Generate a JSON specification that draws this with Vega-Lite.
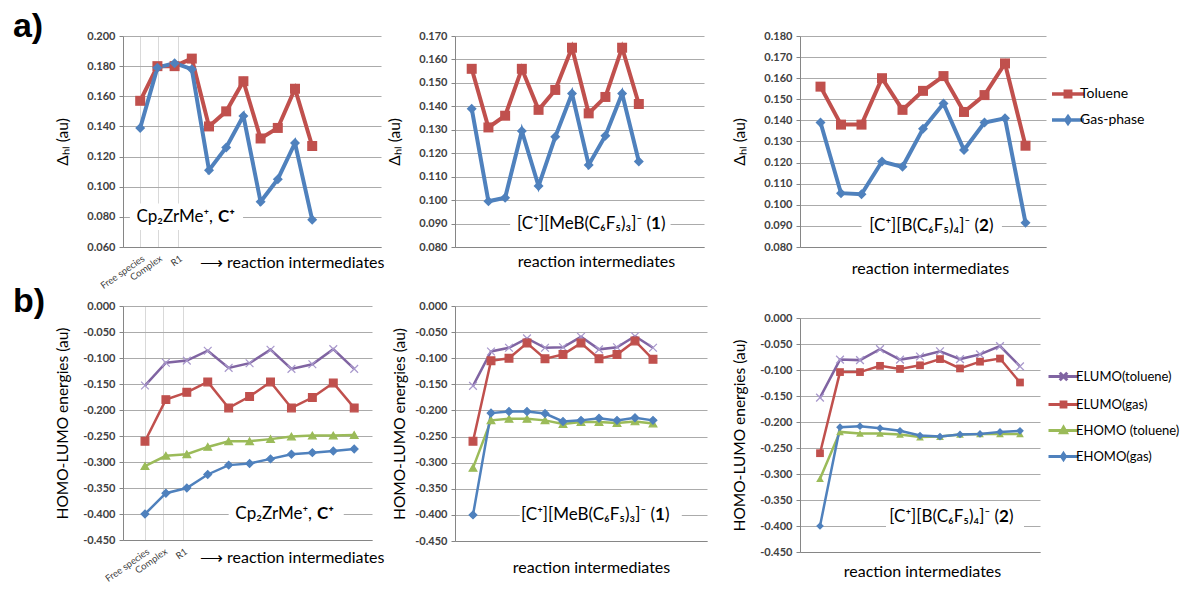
{
"$schema": "https://vega.github.io/schema/vega-lite/v6.json",
"padding": {"left": 12, "top": 10, "right": 0, "bottom": 0},
"background": "white",
"columns": 5,
"align": "each",
"bounds": "flush",
"spacing": {"row": 59, "column": 0},
"resolve": {"scale": {"color": "independent", "shape": "independent", "stroke": "independent"}},
"config": {
  "view": {"stroke": null},
  "font": "Lato",
  "axis": {"labelFont": "Lato", "titleFont": "Lato", "labelFontSize": 11, "labelFontWeight": "bold", "labelColor": "#404040", "titleFontSize": 15, "titleFontWeight": "normal", "titleColor": "#000000", "domainColor": "#868686", "tickColor": "#868686", "gridColor": "#ababab", "tickSize": 4, "labelPadding": 4},
  "axisX": {"titleFontSize": 16},
  "axisY": {"titleFontSize": 15.5},
  "legend": {"labelFont": "Lato", "labelFontSize": 13, "labelColor": "#000000", "padding": 0, "labelLimit": 300},
  "text": {"font": "Lato"}
},
"datasets": {
 "a1": [
  {"series":"Toluene","i":1,"v":0.157},{"series":"Toluene","i":2,"v":0.180},{"series":"Toluene","i":3,"v":0.180},{"series":"Toluene","i":4,"v":0.185},{"series":"Toluene","i":5,"v":0.140},{"series":"Toluene","i":6,"v":0.150},{"series":"Toluene","i":7,"v":0.170},{"series":"Toluene","i":8,"v":0.132},{"series":"Toluene","i":9,"v":0.139},{"series":"Toluene","i":10,"v":0.165},{"series":"Toluene","i":11,"v":0.127},
  {"series":"Gas-phase","i":1,"v":0.139},{"series":"Gas-phase","i":2,"v":0.179},{"series":"Gas-phase","i":3,"v":0.182},{"series":"Gas-phase","i":4,"v":0.178},{"series":"Gas-phase","i":5,"v":0.111},{"series":"Gas-phase","i":6,"v":0.126},{"series":"Gas-phase","i":7,"v":0.147},{"series":"Gas-phase","i":8,"v":0.090},{"series":"Gas-phase","i":9,"v":0.105},{"series":"Gas-phase","i":10,"v":0.129},{"series":"Gas-phase","i":11,"v":0.078}
 ],
 "a2": [
  {"series":"Toluene","i":1,"v":0.156},{"series":"Toluene","i":2,"v":0.131},{"series":"Toluene","i":3,"v":0.136},{"series":"Toluene","i":4,"v":0.156},{"series":"Toluene","i":5,"v":0.1385},{"series":"Toluene","i":6,"v":0.147},{"series":"Toluene","i":7,"v":0.165},{"series":"Toluene","i":8,"v":0.137},{"series":"Toluene","i":9,"v":0.144},{"series":"Toluene","i":10,"v":0.165},{"series":"Toluene","i":11,"v":0.141},
  {"series":"Gas-phase","i":1,"v":0.139},{"series":"Gas-phase","i":2,"v":0.0995},{"series":"Gas-phase","i":3,"v":0.101},{"series":"Gas-phase","i":4,"v":0.1295},{"series":"Gas-phase","i":5,"v":0.106},{"series":"Gas-phase","i":6,"v":0.127},{"series":"Gas-phase","i":7,"v":0.1455},{"series":"Gas-phase","i":8,"v":0.115},{"series":"Gas-phase","i":9,"v":0.1275},{"series":"Gas-phase","i":10,"v":0.1455},{"series":"Gas-phase","i":11,"v":0.1165}
 ],
 "a3": [
  {"series":"Toluene","i":1,"v":0.156},{"series":"Toluene","i":2,"v":0.138},{"series":"Toluene","i":3,"v":0.138},{"series":"Toluene","i":4,"v":0.160},{"series":"Toluene","i":5,"v":0.145},{"series":"Toluene","i":6,"v":0.154},{"series":"Toluene","i":7,"v":0.161},{"series":"Toluene","i":8,"v":0.144},{"series":"Toluene","i":9,"v":0.152},{"series":"Toluene","i":10,"v":0.167},{"series":"Toluene","i":11,"v":0.128},
  {"series":"Gas-phase","i":1,"v":0.139},{"series":"Gas-phase","i":2,"v":0.1055},{"series":"Gas-phase","i":3,"v":0.105},{"series":"Gas-phase","i":4,"v":0.1205},{"series":"Gas-phase","i":5,"v":0.118},{"series":"Gas-phase","i":6,"v":0.136},{"series":"Gas-phase","i":7,"v":0.148},{"series":"Gas-phase","i":8,"v":0.126},{"series":"Gas-phase","i":9,"v":0.139},{"series":"Gas-phase","i":10,"v":0.141},{"series":"Gas-phase","i":11,"v":0.0915}
 ],
 "b1": [
  {"series":"ELUMO(toluene)","i":1,"v":-0.153},{"series":"ELUMO(toluene)","i":2,"v":-0.109},{"series":"ELUMO(toluene)","i":3,"v":-0.105},{"series":"ELUMO(toluene)","i":4,"v":-0.086},{"series":"ELUMO(toluene)","i":5,"v":-0.119},{"series":"ELUMO(toluene)","i":6,"v":-0.110},{"series":"ELUMO(toluene)","i":7,"v":-0.084},{"series":"ELUMO(toluene)","i":8,"v":-0.121},{"series":"ELUMO(toluene)","i":9,"v":-0.112},{"series":"ELUMO(toluene)","i":10,"v":-0.083},{"series":"ELUMO(toluene)","i":11,"v":-0.121},
  {"series":"ELUMO(gas)","i":1,"v":-0.260},{"series":"ELUMO(gas)","i":2,"v":-0.180},{"series":"ELUMO(gas)","i":3,"v":-0.166},{"series":"ELUMO(gas)","i":4,"v":-0.146},{"series":"ELUMO(gas)","i":5,"v":-0.196},{"series":"ELUMO(gas)","i":6,"v":-0.174},{"series":"ELUMO(gas)","i":7,"v":-0.146},{"series":"ELUMO(gas)","i":8,"v":-0.196},{"series":"ELUMO(gas)","i":9,"v":-0.176},{"series":"ELUMO(gas)","i":10,"v":-0.148},{"series":"ELUMO(gas)","i":11,"v":-0.196},
  {"series":"EHOMO (toluene)","i":1,"v":-0.308},{"series":"EHOMO (toluene)","i":2,"v":-0.288},{"series":"EHOMO (toluene)","i":3,"v":-0.285},{"series":"EHOMO (toluene)","i":4,"v":-0.271},{"series":"EHOMO (toluene)","i":5,"v":-0.260},{"series":"EHOMO (toluene)","i":6,"v":-0.260},{"series":"EHOMO (toluene)","i":7,"v":-0.256},{"series":"EHOMO (toluene)","i":8,"v":-0.251},{"series":"EHOMO (toluene)","i":9,"v":-0.249},{"series":"EHOMO (toluene)","i":10,"v":-0.249},{"series":"EHOMO (toluene)","i":11,"v":-0.248},
  {"series":"EHOMO(gas)","i":1,"v":-0.400},{"series":"EHOMO(gas)","i":2,"v":-0.360},{"series":"EHOMO(gas)","i":3,"v":-0.350},{"series":"EHOMO(gas)","i":4,"v":-0.324},{"series":"EHOMO(gas)","i":5,"v":-0.306},{"series":"EHOMO(gas)","i":6,"v":-0.303},{"series":"EHOMO(gas)","i":7,"v":-0.294},{"series":"EHOMO(gas)","i":8,"v":-0.285},{"series":"EHOMO(gas)","i":9,"v":-0.282},{"series":"EHOMO(gas)","i":10,"v":-0.279},{"series":"EHOMO(gas)","i":11,"v":-0.275}
 ],
 "b2": [
  {"series":"ELUMO(toluene)","i":1,"v":-0.153},{"series":"ELUMO(toluene)","i":2,"v":-0.087},{"series":"ELUMO(toluene)","i":3,"v":-0.080},{"series":"ELUMO(toluene)","i":4,"v":-0.062},{"series":"ELUMO(toluene)","i":5,"v":-0.080},{"series":"ELUMO(toluene)","i":6,"v":-0.079},{"series":"ELUMO(toluene)","i":7,"v":-0.059},{"series":"ELUMO(toluene)","i":8,"v":-0.083},{"series":"ELUMO(toluene)","i":9,"v":-0.079},{"series":"ELUMO(toluene)","i":10,"v":-0.058},{"series":"ELUMO(toluene)","i":11,"v":-0.080},
  {"series":"ELUMO(gas)","i":1,"v":-0.259},{"series":"ELUMO(gas)","i":2,"v":-0.105},{"series":"ELUMO(gas)","i":3,"v":-0.100},{"series":"ELUMO(gas)","i":4,"v":-0.071},{"series":"ELUMO(gas)","i":5,"v":-0.101},{"series":"ELUMO(gas)","i":6,"v":-0.093},{"series":"ELUMO(gas)","i":7,"v":-0.071},{"series":"ELUMO(gas)","i":8,"v":-0.101},{"series":"ELUMO(gas)","i":9,"v":-0.093},{"series":"ELUMO(gas)","i":10,"v":-0.067},{"series":"ELUMO(gas)","i":11,"v":-0.102},
  {"series":"EHOMO (toluene)","i":1,"v":-0.310},{"series":"EHOMO (toluene)","i":2,"v":-0.219},{"series":"EHOMO (toluene)","i":3,"v":-0.216},{"series":"EHOMO (toluene)","i":4,"v":-0.216},{"series":"EHOMO (toluene)","i":5,"v":-0.219},{"series":"EHOMO (toluene)","i":6,"v":-0.226},{"series":"EHOMO (toluene)","i":7,"v":-0.222},{"series":"EHOMO (toluene)","i":8,"v":-0.222},{"series":"EHOMO (toluene)","i":9,"v":-0.224},{"series":"EHOMO (toluene)","i":10,"v":-0.221},{"series":"EHOMO (toluene)","i":11,"v":-0.225},
  {"series":"EHOMO(gas)","i":1,"v":-0.400},{"series":"EHOMO(gas)","i":2,"v":-0.205},{"series":"EHOMO(gas)","i":3,"v":-0.202},{"series":"EHOMO(gas)","i":4,"v":-0.202},{"series":"EHOMO(gas)","i":5,"v":-0.206},{"series":"EHOMO(gas)","i":6,"v":-0.221},{"series":"EHOMO(gas)","i":7,"v":-0.219},{"series":"EHOMO(gas)","i":8,"v":-0.215},{"series":"EHOMO(gas)","i":9,"v":-0.219},{"series":"EHOMO(gas)","i":10,"v":-0.214},{"series":"EHOMO(gas)","i":11,"v":-0.219}
 ],
 "b3": [
  {"series":"ELUMO(toluene)","i":1,"v":-0.153},{"series":"ELUMO(toluene)","i":2,"v":-0.080},{"series":"ELUMO(toluene)","i":3,"v":-0.081},{"series":"ELUMO(toluene)","i":4,"v":-0.060},{"series":"ELUMO(toluene)","i":5,"v":-0.080},{"series":"ELUMO(toluene)","i":6,"v":-0.074},{"series":"ELUMO(toluene)","i":7,"v":-0.064},{"series":"ELUMO(toluene)","i":8,"v":-0.079},{"series":"ELUMO(toluene)","i":9,"v":-0.070},{"series":"ELUMO(toluene)","i":10,"v":-0.054},{"series":"ELUMO(toluene)","i":11,"v":-0.093},
  {"series":"ELUMO(gas)","i":1,"v":-0.260},{"series":"ELUMO(gas)","i":2,"v":-0.104},{"series":"ELUMO(gas)","i":3,"v":-0.104},{"series":"ELUMO(gas)","i":4,"v":-0.092},{"series":"ELUMO(gas)","i":5,"v":-0.098},{"series":"ELUMO(gas)","i":6,"v":-0.091},{"series":"ELUMO(gas)","i":7,"v":-0.079},{"series":"ELUMO(gas)","i":8,"v":-0.097},{"series":"ELUMO(gas)","i":9,"v":-0.084},{"series":"ELUMO(gas)","i":10,"v":-0.078},{"series":"ELUMO(gas)","i":11,"v":-0.124},
  {"series":"EHOMO (toluene)","i":1,"v":-0.309},{"series":"EHOMO (toluene)","i":2,"v":-0.219},{"series":"EHOMO (toluene)","i":3,"v":-0.222},{"series":"EHOMO (toluene)","i":4,"v":-0.222},{"series":"EHOMO (toluene)","i":5,"v":-0.224},{"series":"EHOMO (toluene)","i":6,"v":-0.229},{"series":"EHOMO (toluene)","i":7,"v":-0.228},{"series":"EHOMO (toluene)","i":8,"v":-0.224},{"series":"EHOMO (toluene)","i":9,"v":-0.223},{"series":"EHOMO (toluene)","i":10,"v":-0.223},{"series":"EHOMO (toluene)","i":11,"v":-0.223},
  {"series":"EHOMO(gas)","i":1,"v":-0.400},{"series":"EHOMO(gas)","i":2,"v":-0.210},{"series":"EHOMO(gas)","i":3,"v":-0.208},{"series":"EHOMO(gas)","i":4,"v":-0.212},{"series":"EHOMO(gas)","i":5,"v":-0.217},{"series":"EHOMO(gas)","i":6,"v":-0.226},{"series":"EHOMO(gas)","i":7,"v":-0.228},{"series":"EHOMO(gas)","i":8,"v":-0.224},{"series":"EHOMO(gas)","i":9,"v":-0.223},{"series":"EHOMO(gas)","i":10,"v":-0.219},{"series":"EHOMO(gas)","i":11,"v":-0.217}
 ]
},
"concat": [
 {
  "width": 258, "height": 211,
  "layer": [
   {"data": {"values": [{}]}, "mark": {"type": "rect", "fill": "white"},
    "encoding": {
     "x": {"datum": 0.4, "type": "quantitative", "scale": {"domain": [0, 15], "nice": false, "zero": false}, "axis": {"values": [1, 2.03, 3.2], "labelExpr": "datum.value < 1.5 ? 'Free species' : datum.value < 2.6 ? 'Complex' : 'R1'", "labelAngle": -35, "labelFontSize": 9.5, "labelFontWeight": "normal", "labelColor": "#404040", "labelPadding": 6, "labelOverlap": false, "ticks": false, "grid": true, "gridColor": "#d9d9d9", "title": "⟶ reaction intermediates", "titleAnchor": "end", "titleAlign": "right", "titleX": 261, "titleY": 7}},
     "x2": {"datum": 6.98},
     "y": {"datum": 0.0712, "type": "quantitative", "scale": {"domain": [0.06, 0.2], "nice": false, "zero": false}, "axis": {"values": [0.06, 0.08, 0.1, 0.12, 0.14, 0.16, 0.18, 0.2], "format": ".3f", "title": "Δₕₗ (au)", "titlePadding": 16, "grid": true}},
     "y2": {"datum": 0.0888}}},
   {"data": {"name": "a1"}, "mark": {"type": "line", "strokeWidth": 4},
    "encoding": {
     "x": {"field": "i", "type": "quantitative", "scale": {"domain": [0, 15], "nice": false, "zero": false}, "axis": {"values": [1, 2.03, 3.2], "labelExpr": "datum.value < 1.5 ? 'Free species' : datum.value < 2.6 ? 'Complex' : 'R1'", "labelAngle": -35, "labelFontSize": 9.5, "labelFontWeight": "normal", "labelColor": "#404040", "labelPadding": 6, "labelOverlap": false, "ticks": false, "grid": true, "gridColor": "#d9d9d9", "title": "⟶ reaction intermediates", "titleAnchor": "end", "titleAlign": "right", "titleX": 261, "titleY": 7}},
     "y": {"field": "v", "type": "quantitative", "scale": {"domain": [0.06, 0.2], "nice": false, "zero": false}, "axis": {"values": [0.06, 0.08, 0.1, 0.12, 0.14, 0.16, 0.18, 0.2], "format": ".3f", "title": "Δₕₗ (au)", "titlePadding": 16, "grid": true}},
     "color": {"field": "series", "type": "nominal", "scale": {"domain": ["Toluene", "Gas-phase"], "range": ["#C0504D", "#4F81BD"]}, "legend": null}}},
   {"data": {"name": "a1"}, "mark": {"type": "point", "filled": true, "size": 100, "opacity": 1},
    "encoding": {
     "x": {"field": "i", "type": "quantitative", "scale": {"domain": [0, 15], "nice": false, "zero": false}, "axis": {"values": [1, 2.03, 3.2], "labelExpr": "datum.value < 1.5 ? 'Free species' : datum.value < 2.6 ? 'Complex' : 'R1'", "labelAngle": -35, "labelFontSize": 9.5, "labelFontWeight": "normal", "labelColor": "#404040", "labelPadding": 6, "labelOverlap": false, "ticks": false, "grid": true, "gridColor": "#d9d9d9", "title": "⟶ reaction intermediates", "titleAnchor": "end", "titleAlign": "right", "titleX": 261, "titleY": 7}},
     "y": {"field": "v", "type": "quantitative", "scale": {"domain": [0.06, 0.2], "nice": false, "zero": false}, "axis": {"values": [0.06, 0.08, 0.1, 0.12, 0.14, 0.16, 0.18, 0.2], "format": ".3f", "title": "Δₕₗ (au)", "titlePadding": 16, "grid": true}},
     "color": {"field": "series", "type": "nominal", "scale": {"domain": ["Toluene", "Gas-phase"], "range": ["#C0504D", "#4F81BD"]}, "legend": null},
     "shape": {"field": "series", "type": "nominal", "scale": {"domain": ["Toluene", "Gas-phase"], "range": ["square", "diamond"]}, "legend": null}}},
   {"data": {"values": [{}]}, "mark": {"type": "text", "align": "right", "baseline": "middle", "fontSize": 17, "color": "#000000"},
    "encoding": {
     "x": {"datum": 5.23, "type": "quantitative", "scale": {"domain": [0, 15], "nice": false, "zero": false}, "axis": {"values": [1, 2.03, 3.2], "labelExpr": "datum.value < 1.5 ? 'Free species' : datum.value < 2.6 ? 'Complex' : 'R1'", "labelAngle": -35, "labelFontSize": 9.5, "labelFontWeight": "normal", "labelColor": "#404040", "labelPadding": 6, "labelOverlap": false, "ticks": false, "grid": true, "gridColor": "#d9d9d9", "title": "⟶ reaction intermediates", "titleAnchor": "end", "titleAlign": "right", "titleX": 261, "titleY": 7}},
     "y": {"datum": 0.08, "type": "quantitative", "scale": {"domain": [0.06, 0.2], "nice": false, "zero": false}, "axis": {"values": [0.06, 0.08, 0.1, 0.12, 0.14, 0.16, 0.18, 0.2], "format": ".3f", "title": "Δₕₗ (au)", "titlePadding": 16, "grid": true}},
     "text": {"value": "Cp₂ZrMe⁺,"}}},
   {"data": {"values": [{}]}, "mark": {"type": "text", "align": "left", "baseline": "middle", "fontSize": 17, "fontWeight": "bold", "dx": 5, "color": "#000000"},
    "encoding": {
     "x": {"datum": 5.23, "type": "quantitative", "scale": {"domain": [0, 15], "nice": false, "zero": false}, "axis": {"values": [1, 2.03, 3.2], "labelExpr": "datum.value < 1.5 ? 'Free species' : datum.value < 2.6 ? 'Complex' : 'R1'", "labelAngle": -35, "labelFontSize": 9.5, "labelFontWeight": "normal", "labelColor": "#404040", "labelPadding": 6, "labelOverlap": false, "ticks": false, "grid": true, "gridColor": "#d9d9d9", "title": "⟶ reaction intermediates", "titleAnchor": "end", "titleAlign": "right", "titleX": 261, "titleY": 7}},
     "y": {"datum": 0.08, "type": "quantitative", "scale": {"domain": [0.06, 0.2], "nice": false, "zero": false}, "axis": {"values": [0.06, 0.08, 0.1, 0.12, 0.14, 0.16, 0.18, 0.2], "format": ".3f", "title": "Δₕₗ (au)", "titlePadding": 16, "grid": true}},
     "text": {"value": "C⁺"}}},
   {"data": {"values": [{}]}, "mark": {"type": "text", "align": "left", "baseline": "top", "fontSize": 34, "fontWeight": "bold", "font": "Liberation Sans", "color": "#000000"},
    "encoding": {
     "x": {"datum": -6.4, "type": "quantitative", "scale": {"domain": [0, 15], "nice": false, "zero": false}, "axis": {"values": [1, 2.03, 3.2], "labelExpr": "datum.value < 1.5 ? 'Free species' : datum.value < 2.6 ? 'Complex' : 'R1'", "labelAngle": -35, "labelFontSize": 9.5, "labelFontWeight": "normal", "labelColor": "#404040", "labelPadding": 6, "labelOverlap": false, "ticks": false, "grid": true, "gridColor": "#d9d9d9", "title": "⟶ reaction intermediates", "titleAnchor": "end", "titleAlign": "right", "titleX": 261, "titleY": 7}},
     "y": {"datum": 0.21725, "type": "quantitative", "scale": {"domain": [0.06, 0.2], "nice": false, "zero": false}, "axis": {"values": [0.06, 0.08, 0.1, 0.12, 0.14, 0.16, 0.18, 0.2], "format": ".3f", "title": "Δₕₗ (au)", "titlePadding": 16, "grid": true}},
     "text": {"value": "a)"}}}
  ]
 },
 {"width": 74, "height": 1, "data": {"values": [{}]}, "mark": {"type": "text"}, "encoding": {"text": {"value": ""}}},
 {
  "width": 249, "height": 211,
  "layer": [
   {"data": {"values": [{}]}, "mark": {"type": "rect", "fill": "white"},
    "encoding": {
     "x": {"datum": 3.3, "type": "quantitative", "scale": {"domain": [0, 14.9], "nice": false, "zero": false}, "axis": {"values": [], "labels": false, "ticks": false, "grid": false, "title": "reaction intermediates", "titlePadding": 6, "titleX": 141}},
     "x2": {"datum": 12.9},
     "y": {"datum": 0.0857, "type": "quantitative", "scale": {"domain": [0.08, 0.17], "nice": false, "zero": false}, "axis": {"values": [0.08, 0.09, 0.1, 0.11, 0.12, 0.13, 0.14, 0.15, 0.16, 0.17], "format": ".3f", "title": "Δₕₗ (au)", "titlePadding": 16, "grid": true}},
     "y2": {"datum": 0.0943}}},
   {"data": {"name": "a2"}, "mark": {"type": "line", "strokeWidth": 4},
    "encoding": {
     "x": {"field": "i", "type": "quantitative", "scale": {"domain": [0, 14.9], "nice": false, "zero": false}, "axis": {"values": [], "labels": false, "ticks": false, "grid": false, "title": "reaction intermediates", "titlePadding": 6, "titleX": 141}},
     "y": {"field": "v", "type": "quantitative", "scale": {"domain": [0.08, 0.17], "nice": false, "zero": false}, "axis": {"values": [0.08, 0.09, 0.1, 0.11, 0.12, 0.13, 0.14, 0.15, 0.16, 0.17], "format": ".3f", "title": "Δₕₗ (au)", "titlePadding": 16, "grid": true}},
     "color": {"field": "series", "type": "nominal", "scale": {"domain": ["Toluene", "Gas-phase"], "range": ["#C0504D", "#4F81BD"]}, "legend": null}}},
   {"data": {"name": "a2"}, "mark": {"type": "point", "filled": true, "size": 100, "opacity": 1},
    "encoding": {
     "x": {"field": "i", "type": "quantitative", "scale": {"domain": [0, 14.9], "nice": false, "zero": false}, "axis": {"values": [], "labels": false, "ticks": false, "grid": false, "title": "reaction intermediates", "titlePadding": 6, "titleX": 141}},
     "y": {"field": "v", "type": "quantitative", "scale": {"domain": [0.08, 0.17], "nice": false, "zero": false}, "axis": {"values": [0.08, 0.09, 0.1, 0.11, 0.12, 0.13, 0.14, 0.15, 0.16, 0.17], "format": ".3f", "title": "Δₕₗ (au)", "titlePadding": 16, "grid": true}},
     "color": {"field": "series", "type": "nominal", "scale": {"domain": ["Toluene", "Gas-phase"], "range": ["#C0504D", "#4F81BD"]}, "legend": null},
     "shape": {"field": "series", "type": "nominal", "scale": {"domain": ["Toluene", "Gas-phase"], "range": ["square", "diamond"]}, "legend": null}}},
   {"data": {"values": [{}]}, "mark": {"type": "text", "align": "right", "baseline": "middle", "fontSize": 17, "color": "#000000"},
    "encoding": {
     "x": {"datum": 11.73, "type": "quantitative", "scale": {"domain": [0, 14.9], "nice": false, "zero": false}, "axis": {"values": [], "labels": false, "ticks": false, "grid": false, "title": "reaction intermediates", "titlePadding": 6, "titleX": 141}},
     "y": {"datum": 0.09, "type": "quantitative", "scale": {"domain": [0.08, 0.17], "nice": false, "zero": false}, "axis": {"values": [0.08, 0.09, 0.1, 0.11, 0.12, 0.13, 0.14, 0.15, 0.16, 0.17], "format": ".3f", "title": "Δₕₗ (au)", "titlePadding": 16, "grid": true}},
     "text": {"value": "[C⁺][MeB(C₆F₅)₃]⁻ ("}}},
   {"data": {"values": [{}]}, "mark": {"type": "text", "align": "left", "baseline": "middle", "fontSize": 17, "fontWeight": "bold", "color": "#000000"},
    "encoding": {
     "x": {"datum": 11.73, "type": "quantitative", "scale": {"domain": [0, 14.9], "nice": false, "zero": false}, "axis": {"values": [], "labels": false, "ticks": false, "grid": false, "title": "reaction intermediates", "titlePadding": 6, "titleX": 141}},
     "y": {"datum": 0.09, "type": "quantitative", "scale": {"domain": [0.08, 0.17], "nice": false, "zero": false}, "axis": {"values": [0.08, 0.09, 0.1, 0.11, 0.12, 0.13, 0.14, 0.15, 0.16, 0.17], "format": ".3f", "title": "Δₕₗ (au)", "titlePadding": 16, "grid": true}},
     "text": {"value": "1"}}},
   {"data": {"values": [{}]}, "mark": {"type": "text", "align": "left", "baseline": "middle", "fontSize": 17, "dx": 10, "color": "#000000"},
    "encoding": {
     "x": {"datum": 11.73, "type": "quantitative", "scale": {"domain": [0, 14.9], "nice": false, "zero": false}, "axis": {"values": [], "labels": false, "ticks": false, "grid": false, "title": "reaction intermediates", "titlePadding": 6, "titleX": 141}},
     "y": {"datum": 0.09, "type": "quantitative", "scale": {"domain": [0.08, 0.17], "nice": false, "zero": false}, "axis": {"values": [0.08, 0.09, 0.1, 0.11, 0.12, 0.13, 0.14, 0.15, 0.16, 0.17], "format": ".3f", "title": "Δₕₗ (au)", "titlePadding": 16, "grid": true}},
     "text": {"value": ")"}}}
  ]
 },
 {"width": 93, "height": 1, "data": {"values": [{}]}, "mark": {"type": "text"}, "encoding": {"text": {"value": ""}}},
 {
  "width": 246, "height": 211,
  "layer": [
   {"data": {"name": "a3"}, "transform": [{"filter": "false"}], "mark": {"type": "point", "filled": false, "strokeWidth": 3.5, "opacity": 1},
    "encoding": {
     "x": {"field": "i", "type": "quantitative", "scale": {"domain": [0, 12], "nice": false, "zero": false}, "axis": {"values": [], "labels": false, "ticks": false, "grid": false, "title": "reaction intermediates", "titlePadding": 13, "titleX": 130}},
     "y": {"field": "v", "type": "quantitative", "scale": {"domain": [0.08, 0.18], "nice": false, "zero": false}, "axis": {"values": [0.08, 0.09, 0.1, 0.11, 0.12, 0.13, 0.14, 0.15, 0.16, 0.17, 0.18], "format": ".3f", "title": "Δₕₗ (au)", "titlePadding": 16, "grid": true}},
     "color": {"field": "series", "type": "nominal", "scale": {"domain": ["Toluene", "Gas-phase"], "range": ["#C0504D", "#4F81BD"]},
       "legend": {"title": null, "orient": "none", "legendX": 256, "legendY": 46, "symbolSize": 400, "symbolStrokeWidth": 3.5, "labelOffset": 0, "labelFontSize": 14, "rowPadding": 4, "padding": 0}},
     "shape": {"field": "series", "type": "nominal", "scale": {"domain": ["Toluene", "Gas-phase"], "range": ["M-1.6,0H1.6M-0.27,-0.27H0.27V0.27H-0.27Z", "M-1.6,0H1.6M0,-0.32L0.22,0L0,0.32L-0.22,0Z"]},
       "legend": {"title": null, "orient": "none", "legendX": 256, "legendY": 46, "symbolSize": 400, "symbolStrokeWidth": 3.5, "labelOffset": 0, "labelFontSize": 14, "rowPadding": 4, "padding": 0}}}},
   {"data": {"values": [{}]}, "mark": {"type": "rect", "fill": "white"},
    "encoding": {
     "x": {"datum": 3.0, "type": "quantitative", "scale": {"domain": [0, 12], "nice": false, "zero": false}, "axis": {"values": [], "labels": false, "ticks": false, "grid": false, "title": "reaction intermediates", "titlePadding": 13, "titleX": 130}},
     "x2": {"datum": 9.85},
     "y": {"datum": 0.0853, "type": "quantitative", "scale": {"domain": [0.08, 0.18], "nice": false, "zero": false}, "axis": {"values": [0.08, 0.09, 0.1, 0.11, 0.12, 0.13, 0.14, 0.15, 0.16, 0.17, 0.18], "format": ".3f", "title": "Δₕₗ (au)", "titlePadding": 16, "grid": true}},
     "y2": {"datum": 0.0947}}},
   {"data": {"name": "a3"}, "mark": {"type": "line", "strokeWidth": 4},
    "encoding": {
     "x": {"field": "i", "type": "quantitative", "scale": {"domain": [0, 12], "nice": false, "zero": false}, "axis": {"values": [], "labels": false, "ticks": false, "grid": false, "title": "reaction intermediates", "titlePadding": 13, "titleX": 130}},
     "y": {"field": "v", "type": "quantitative", "scale": {"domain": [0.08, 0.18], "nice": false, "zero": false}, "axis": {"values": [0.08, 0.09, 0.1, 0.11, 0.12, 0.13, 0.14, 0.15, 0.16, 0.17, 0.18], "format": ".3f", "title": "Δₕₗ (au)", "titlePadding": 16, "grid": true}},
     "color": {"field": "series", "type": "nominal", "scale": {"domain": ["Toluene", "Gas-phase"], "range": ["#C0504D", "#4F81BD"]}, "legend": null}}},
   {"data": {"name": "a3"}, "transform": [{"filter": "datum.series === 'Toluene'"}], "mark": {"type": "point", "filled": true, "size": 100, "opacity": 1, "shape": "square", "color": "#C0504D"},
    "encoding": {
     "x": {"field": "i", "type": "quantitative", "scale": {"domain": [0, 12], "nice": false, "zero": false}, "axis": {"values": [], "labels": false, "ticks": false, "grid": false, "title": "reaction intermediates", "titlePadding": 13, "titleX": 130}},
     "y": {"field": "v", "type": "quantitative", "scale": {"domain": [0.08, 0.18], "nice": false, "zero": false}, "axis": {"values": [0.08, 0.09, 0.1, 0.11, 0.12, 0.13, 0.14, 0.15, 0.16, 0.17, 0.18], "format": ".3f", "title": "Δₕₗ (au)", "titlePadding": 16, "grid": true}}}},
   {"data": {"name": "a3"}, "transform": [{"filter": "datum.series === 'Gas-phase'"}], "mark": {"type": "point", "filled": true, "size": 100, "opacity": 1, "shape": "diamond", "color": "#4F81BD"},
    "encoding": {
     "x": {"field": "i", "type": "quantitative", "scale": {"domain": [0, 12], "nice": false, "zero": false}, "axis": {"values": [], "labels": false, "ticks": false, "grid": false, "title": "reaction intermediates", "titlePadding": 13, "titleX": 130}},
     "y": {"field": "v", "type": "quantitative", "scale": {"domain": [0.08, 0.18], "nice": false, "zero": false}, "axis": {"values": [0.08, 0.09, 0.1, 0.11, 0.12, 0.13, 0.14, 0.15, 0.16, 0.17, 0.18], "format": ".3f", "title": "Δₕₗ (au)", "titlePadding": 16, "grid": true}}}},
   {"data": {"values": [{}]}, "mark": {"type": "text", "align": "right", "baseline": "middle", "fontSize": 17, "color": "#000000"},
    "encoding": {
     "x": {"datum": 8.73, "type": "quantitative", "scale": {"domain": [0, 12], "nice": false, "zero": false}, "axis": {"values": [], "labels": false, "ticks": false, "grid": false, "title": "reaction intermediates", "titlePadding": 13, "titleX": 130}},
     "y": {"datum": 0.09, "type": "quantitative", "scale": {"domain": [0.08, 0.18], "nice": false, "zero": false}, "axis": {"values": [0.08, 0.09, 0.1, 0.11, 0.12, 0.13, 0.14, 0.15, 0.16, 0.17, 0.18], "format": ".3f", "title": "Δₕₗ (au)", "titlePadding": 16, "grid": true}},
     "text": {"value": "[C⁺][B(C₆F₅)₄]⁻ ("}}},
   {"data": {"values": [{}]}, "mark": {"type": "text", "align": "left", "baseline": "middle", "fontSize": 17, "fontWeight": "bold", "color": "#000000"},
    "encoding": {
     "x": {"datum": 8.73, "type": "quantitative", "scale": {"domain": [0, 12], "nice": false, "zero": false}, "axis": {"values": [], "labels": false, "ticks": false, "grid": false, "title": "reaction intermediates", "titlePadding": 13, "titleX": 130}},
     "y": {"datum": 0.09, "type": "quantitative", "scale": {"domain": [0.08, 0.18], "nice": false, "zero": false}, "axis": {"values": [0.08, 0.09, 0.1, 0.11, 0.12, 0.13, 0.14, 0.15, 0.16, 0.17, 0.18], "format": ".3f", "title": "Δₕₗ (au)", "titlePadding": 16, "grid": true}},
     "text": {"value": "2"}}},
   {"data": {"values": [{}]}, "mark": {"type": "text", "align": "left", "baseline": "middle", "fontSize": 17, "dx": 10, "color": "#000000"},
    "encoding": {
     "x": {"datum": 8.73, "type": "quantitative", "scale": {"domain": [0, 12], "nice": false, "zero": false}, "axis": {"values": [], "labels": false, "ticks": false, "grid": false, "title": "reaction intermediates", "titlePadding": 13, "titleX": 130}},
     "y": {"datum": 0.09, "type": "quantitative", "scale": {"domain": [0.08, 0.18], "nice": false, "zero": false}, "axis": {"values": [0.08, 0.09, 0.1, 0.11, 0.12, 0.13, 0.14, 0.15, 0.16, 0.17, 0.18], "format": ".3f", "title": "Δₕₗ (au)", "titlePadding": 16, "grid": true}},
     "text": {"value": ")"}}}
  ]
 },
 {
  "width": 249, "height": 234,
  "layer": [
   {"data": {"values": [{}]}, "mark": {"type": "rect", "fill": "white"},
    "encoding": {
     "x": {"datum": 5.0, "type": "quantitative", "scale": {"domain": [-0.05, 11.85], "nice": false, "zero": false}, "axis": {"values": [1, 1.86, 2.82], "labelExpr": "datum.value < 1.4 ? 'Free species' : datum.value < 2.3 ? 'Complex' : 'R1'", "labelAngle": -35, "labelFontSize": 9.5, "labelFontWeight": "normal", "labelColor": "#404040", "labelPadding": 6, "labelOverlap": false, "ticks": false, "grid": true, "gridColor": "#d9d9d9", "title": "⟶ reaction intermediates", "titleAnchor": "end", "titleAlign": "right", "titleX": 261, "titleY": 9}},
     "x2": {"datum": 10.5},
     "y": {"datum": -0.414, "type": "quantitative", "scale": {"domain": [-0.45, 0], "nice": false, "zero": false}, "axis": {"values": [-0.45, -0.4, -0.35, -0.3, -0.25, -0.2, -0.15, -0.1, -0.05, 0], "labelExpr": "replace(format(datum.value, '.3f'), '−', '-')", "title": "HOMO-LUMO energies (au)", "titlePadding": 12, "grid": true}},
     "y2": {"datum": -0.386}}},
   {"data": {"name": "b1"}, "mark": {"type": "line", "strokeWidth": 2.5},
    "encoding": {
     "x": {"field": "i", "type": "quantitative", "scale": {"domain": [-0.05, 11.85], "nice": false, "zero": false}, "axis": {"values": [1, 1.86, 2.82], "labelExpr": "datum.value < 1.4 ? 'Free species' : datum.value < 2.3 ? 'Complex' : 'R1'", "labelAngle": -35, "labelFontSize": 9.5, "labelFontWeight": "normal", "labelColor": "#404040", "labelPadding": 6, "labelOverlap": false, "ticks": false, "grid": true, "gridColor": "#d9d9d9", "title": "⟶ reaction intermediates", "titleAnchor": "end", "titleAlign": "right", "titleX": 261, "titleY": 9}},
     "y": {"field": "v", "type": "quantitative", "scale": {"domain": [-0.45, 0], "nice": false, "zero": false}, "axis": {"values": [-0.45, -0.4, -0.35, -0.3, -0.25, -0.2, -0.15, -0.1, -0.05, 0], "labelExpr": "replace(format(datum.value, '.3f'), '−', '-')", "title": "HOMO-LUMO energies (au)", "titlePadding": 12, "grid": true}},
     "color": {"field": "series", "type": "nominal", "scale": {"domain": ["ELUMO(toluene)", "ELUMO(gas)", "EHOMO (toluene)", "EHOMO(gas)"], "range": ["#8064A2", "#C0504D", "#9BBB59", "#4F81BD"]}, "legend": null}}},
   {"data": {"name": "b1"}, "mark": {"type": "point", "filled": true, "size": 60, "opacity": 1, "strokeWidth": 1.2},
    "encoding": {
     "x": {"field": "i", "type": "quantitative", "scale": {"domain": [-0.05, 11.85], "nice": false, "zero": false}, "axis": {"values": [1, 1.86, 2.82], "labelExpr": "datum.value < 1.4 ? 'Free species' : datum.value < 2.3 ? 'Complex' : 'R1'", "labelAngle": -35, "labelFontSize": 9.5, "labelFontWeight": "normal", "labelColor": "#404040", "labelPadding": 6, "labelOverlap": false, "ticks": false, "grid": true, "gridColor": "#d9d9d9", "title": "⟶ reaction intermediates", "titleAnchor": "end", "titleAlign": "right", "titleX": 261, "titleY": 9}},
     "y": {"field": "v", "type": "quantitative", "scale": {"domain": [-0.45, 0], "nice": false, "zero": false}, "axis": {"values": [-0.45, -0.4, -0.35, -0.3, -0.25, -0.2, -0.15, -0.1, -0.05, 0], "labelExpr": "replace(format(datum.value, '.3f'), '−', '-')", "title": "HOMO-LUMO energies (au)", "titlePadding": 12, "grid": true}},
     "color": {"field": "series", "type": "nominal", "scale": {"domain": ["ELUMO(toluene)", "ELUMO(gas)", "EHOMO (toluene)", "EHOMO(gas)"], "range": ["#8064A2", "#C0504D", "#9BBB59", "#4F81BD"]}, "legend": null},
     "stroke": {"field": "series", "type": "nominal", "scale": {"domain": ["ELUMO(toluene)", "ELUMO(gas)", "EHOMO (toluene)", "EHOMO(gas)"], "range": ["#A898CC", "#C0504D", "#9BBB59", "#4F81BD"]}, "legend": null},
     "shape": {"field": "series", "type": "nominal", "scale": {"domain": ["ELUMO(toluene)", "ELUMO(gas)", "EHOMO (toluene)", "EHOMO(gas)"], "range": ["M-1,-1L1,1M-1,1L1,-1", "square", "triangle-up", "diamond"]}, "legend": null}}},
   {"data": {"values": [{}]}, "mark": {"type": "text", "align": "right", "baseline": "middle", "fontSize": 17, "color": "#000000"},
    "encoding": {
     "x": {"datum": 8.98, "type": "quantitative", "scale": {"domain": [-0.05, 11.85], "nice": false, "zero": false}, "axis": {"values": [1, 1.86, 2.82], "labelExpr": "datum.value < 1.4 ? 'Free species' : datum.value < 2.3 ? 'Complex' : 'R1'", "labelAngle": -35, "labelFontSize": 9.5, "labelFontWeight": "normal", "labelColor": "#404040", "labelPadding": 6, "labelOverlap": false, "ticks": false, "grid": true, "gridColor": "#d9d9d9", "title": "⟶ reaction intermediates", "titleAnchor": "end", "titleAlign": "right", "titleX": 261, "titleY": 9}},
     "y": {"datum": -0.4, "type": "quantitative", "scale": {"domain": [-0.45, 0], "nice": false, "zero": false}, "axis": {"values": [-0.45, -0.4, -0.35, -0.3, -0.25, -0.2, -0.15, -0.1, -0.05, 0], "labelExpr": "replace(format(datum.value, '.3f'), '−', '-')", "title": "HOMO-LUMO energies (au)", "titlePadding": 12, "grid": true}},
     "text": {"value": "Cp₂ZrMe⁺,"}}},
   {"data": {"values": [{}]}, "mark": {"type": "text", "align": "left", "baseline": "middle", "fontSize": 17, "fontWeight": "bold", "dx": 5, "color": "#000000"},
    "encoding": {
     "x": {"datum": 8.98, "type": "quantitative", "scale": {"domain": [-0.05, 11.85], "nice": false, "zero": false}, "axis": {"values": [1, 1.86, 2.82], "labelExpr": "datum.value < 1.4 ? 'Free species' : datum.value < 2.3 ? 'Complex' : 'R1'", "labelAngle": -35, "labelFontSize": 9.5, "labelFontWeight": "normal", "labelColor": "#404040", "labelPadding": 6, "labelOverlap": false, "ticks": false, "grid": true, "gridColor": "#d9d9d9", "title": "⟶ reaction intermediates", "titleAnchor": "end", "titleAlign": "right", "titleX": 261, "titleY": 9}},
     "y": {"datum": -0.4, "type": "quantitative", "scale": {"domain": [-0.45, 0], "nice": false, "zero": false}, "axis": {"values": [-0.45, -0.4, -0.35, -0.3, -0.25, -0.2, -0.15, -0.1, -0.05, 0], "labelExpr": "replace(format(datum.value, '.3f'), '−', '-')", "title": "HOMO-LUMO energies (au)", "titlePadding": 12, "grid": true}},
     "text": {"value": "C⁺"}}},
   {"data": {"values": [{}]}, "mark": {"type": "text", "align": "left", "baseline": "top", "fontSize": 34, "fontWeight": "bold", "font": "Liberation Sans", "color": "#000000"},
    "encoding": {
     "x": {"datum": -5.31, "type": "quantitative", "scale": {"domain": [-0.05, 11.85], "nice": false, "zero": false}, "axis": {"values": [1, 1.86, 2.82], "labelExpr": "datum.value < 1.4 ? 'Free species' : datum.value < 2.3 ? 'Complex' : 'R1'", "labelAngle": -35, "labelFontSize": 9.5, "labelFontWeight": "normal", "labelColor": "#404040", "labelPadding": 6, "labelOverlap": false, "ticks": false, "grid": true, "gridColor": "#d9d9d9", "title": "⟶ reaction intermediates", "titleAnchor": "end", "titleAlign": "right", "titleX": 261, "titleY": 9}},
     "y": {"datum": 0.0404, "type": "quantitative", "scale": {"domain": [-0.45, 0], "nice": false, "zero": false}, "axis": {"values": [-0.45, -0.4, -0.35, -0.3, -0.25, -0.2, -0.15, -0.1, -0.05, 0], "labelExpr": "replace(format(datum.value, '.3f'), '−', '-')", "title": "HOMO-LUMO energies (au)", "titlePadding": 12, "grid": true}},
     "text": {"value": "b)"}}}
  ]
 },
 {"width": 74, "height": 1, "data": {"values": [{}]}, "mark": {"type": "text"}, "encoding": {"text": {"value": ""}}},
 {
  "width": 252, "height": 235,
  "layer": [
   {"data": {"values": [{}]}, "mark": {"type": "rect", "fill": "white"},
    "encoding": {
     "x": {"datum": 3.6, "type": "quantitative", "scale": {"domain": [0, 14], "nice": false, "zero": false}, "axis": {"values": [], "labels": false, "ticks": false, "grid": false, "title": "reaction intermediates", "titlePadding": 18, "titleX": 136}},
     "x2": {"datum": 12.6},
     "y": {"datum": -0.414, "type": "quantitative", "scale": {"domain": [-0.45, 0], "nice": false, "zero": false}, "axis": {"values": [-0.45, -0.4, -0.35, -0.3, -0.25, -0.2, -0.15, -0.1, -0.05, 0], "labelExpr": "replace(format(datum.value, '.3f'), '−', '-')", "title": "HOMO-LUMO energies (au)", "titlePadding": 7, "grid": true}},
     "y2": {"datum": -0.386}}},
   {"data": {"name": "b2"}, "mark": {"type": "line", "strokeWidth": 2.5},
    "encoding": {
     "x": {"field": "i", "type": "quantitative", "scale": {"domain": [0, 14], "nice": false, "zero": false}, "axis": {"values": [], "labels": false, "ticks": false, "grid": false, "title": "reaction intermediates", "titlePadding": 18, "titleX": 136}},
     "y": {"field": "v", "type": "quantitative", "scale": {"domain": [-0.45, 0], "nice": false, "zero": false}, "axis": {"values": [-0.45, -0.4, -0.35, -0.3, -0.25, -0.2, -0.15, -0.1, -0.05, 0], "labelExpr": "replace(format(datum.value, '.3f'), '−', '-')", "title": "HOMO-LUMO energies (au)", "titlePadding": 7, "grid": true}},
     "color": {"field": "series", "type": "nominal", "scale": {"domain": ["ELUMO(toluene)", "ELUMO(gas)", "EHOMO (toluene)", "EHOMO(gas)"], "range": ["#8064A2", "#C0504D", "#9BBB59", "#4F81BD"]}, "legend": null}}},
   {"data": {"name": "b2"}, "mark": {"type": "point", "filled": true, "size": 60, "opacity": 1, "strokeWidth": 1.2},
    "encoding": {
     "x": {"field": "i", "type": "quantitative", "scale": {"domain": [0, 14], "nice": false, "zero": false}, "axis": {"values": [], "labels": false, "ticks": false, "grid": false, "title": "reaction intermediates", "titlePadding": 18, "titleX": 136}},
     "y": {"field": "v", "type": "quantitative", "scale": {"domain": [-0.45, 0], "nice": false, "zero": false}, "axis": {"values": [-0.45, -0.4, -0.35, -0.3, -0.25, -0.2, -0.15, -0.1, -0.05, 0], "labelExpr": "replace(format(datum.value, '.3f'), '−', '-')", "title": "HOMO-LUMO energies (au)", "titlePadding": 7, "grid": true}},
     "color": {"field": "series", "type": "nominal", "scale": {"domain": ["ELUMO(toluene)", "ELUMO(gas)", "EHOMO (toluene)", "EHOMO(gas)"], "range": ["#8064A2", "#C0504D", "#9BBB59", "#4F81BD"]}, "legend": null},
     "stroke": {"field": "series", "type": "nominal", "scale": {"domain": ["ELUMO(toluene)", "ELUMO(gas)", "EHOMO (toluene)", "EHOMO(gas)"], "range": ["#A898CC", "#C0504D", "#9BBB59", "#4F81BD"]}, "legend": null},
     "shape": {"field": "series", "type": "nominal", "scale": {"domain": ["ELUMO(toluene)", "ELUMO(gas)", "EHOMO (toluene)", "EHOMO(gas)"], "range": ["M-1,-1L1,1M-1,1L1,-1", "square", "triangle-up", "diamond"]}, "legend": null}}},
   {"data": {"values": [{}]}, "mark": {"type": "text", "align": "right", "baseline": "middle", "fontSize": 17, "color": "#000000"},
    "encoding": {
     "x": {"datum": 11.11, "type": "quantitative", "scale": {"domain": [0, 14], "nice": false, "zero": false}, "axis": {"values": [], "labels": false, "ticks": false, "grid": false, "title": "reaction intermediates", "titlePadding": 18, "titleX": 136}},
     "y": {"datum": -0.4, "type": "quantitative", "scale": {"domain": [-0.45, 0], "nice": false, "zero": false}, "axis": {"values": [-0.45, -0.4, -0.35, -0.3, -0.25, -0.2, -0.15, -0.1, -0.05, 0], "labelExpr": "replace(format(datum.value, '.3f'), '−', '-')", "title": "HOMO-LUMO energies (au)", "titlePadding": 7, "grid": true}},
     "text": {"value": "[C⁺][MeB(C₆F₅)₃]⁻ ("}}},
   {"data": {"values": [{}]}, "mark": {"type": "text", "align": "left", "baseline": "middle", "fontSize": 17, "fontWeight": "bold", "color": "#000000"},
    "encoding": {
     "x": {"datum": 11.11, "type": "quantitative", "scale": {"domain": [0, 14], "nice": false, "zero": false}, "axis": {"values": [], "labels": false, "ticks": false, "grid": false, "title": "reaction intermediates", "titlePadding": 18, "titleX": 136}},
     "y": {"datum": -0.4, "type": "quantitative", "scale": {"domain": [-0.45, 0], "nice": false, "zero": false}, "axis": {"values": [-0.45, -0.4, -0.35, -0.3, -0.25, -0.2, -0.15, -0.1, -0.05, 0], "labelExpr": "replace(format(datum.value, '.3f'), '−', '-')", "title": "HOMO-LUMO energies (au)", "titlePadding": 7, "grid": true}},
     "text": {"value": "1"}}},
   {"data": {"values": [{}]}, "mark": {"type": "text", "align": "left", "baseline": "middle", "fontSize": 17, "dx": 10, "color": "#000000"},
    "encoding": {
     "x": {"datum": 11.11, "type": "quantitative", "scale": {"domain": [0, 14], "nice": false, "zero": false}, "axis": {"values": [], "labels": false, "ticks": false, "grid": false, "title": "reaction intermediates", "titlePadding": 18, "titleX": 136}},
     "y": {"datum": -0.4, "type": "quantitative", "scale": {"domain": [-0.45, 0], "nice": false, "zero": false}, "axis": {"values": [-0.45, -0.4, -0.35, -0.3, -0.25, -0.2, -0.15, -0.1, -0.05, 0], "labelExpr": "replace(format(datum.value, '.3f'), '−', '-')", "title": "HOMO-LUMO energies (au)", "titlePadding": 7, "grid": true}},
     "text": {"value": ")"}}}
  ]
 },
 {"width": 93, "height": 1, "data": {"values": [{}]}, "mark": {"type": "text"}, "encoding": {"text": {"value": ""}}},
 {
  "width": 240, "height": 246,
  "layer": [
   {"data": {"name": "b3"}, "transform": [{"filter": "false"}], "mark": {"type": "point", "filled": false, "strokeWidth": 3, "opacity": 1},
    "encoding": {
     "x": {"field": "i", "type": "quantitative", "scale": {"domain": [0, 12], "nice": false, "zero": false}, "axis": {"values": [], "labels": false, "ticks": false, "grid": false, "title": "reaction intermediates", "titlePadding": 11, "titleX": 122}},
     "y": {"field": "v", "type": "quantitative", "scale": {"domain": [-0.45, 0], "nice": false, "zero": false, "range": [246, 12]}, "axis": {"values": [-0.45, -0.4, -0.35, -0.3, -0.25, -0.2, -0.15, -0.1, -0.05, 0], "labelExpr": "replace(format(datum.value, '.3f'), '−', '-')", "title": "HOMO-LUMO energies (au)", "titlePadding": 12, "grid": true}},
     "color": {"field": "series", "type": "nominal", "scale": {"domain": ["ELUMO(toluene)", "ELUMO(gas)", "EHOMO (toluene)", "EHOMO(gas)"], "range": ["#8064A2", "#C0504D", "#9BBB59", "#4F81BD"]},
       "legend": {"title": null, "orient": "none", "legendX": 252, "legendY": 59, "symbolSize": 400, "symbolStrokeWidth": 3, "labelOffset": 1, "rowPadding": 6, "padding": 0}},
     "shape": {"field": "series", "type": "nominal", "scale": {"domain": ["ELUMO(toluene)", "ELUMO(gas)", "EHOMO (toluene)", "EHOMO(gas)"], "range": ["M-1.5,0H1.5M-0.38,-0.38L0.38,0.38M-0.38,0.38L0.38,-0.38", "M-1.5,0H1.5M-0.24,-0.24H0.24V0.24H-0.24Z", "M-1.5,0H1.5M0,-0.32L0.3,0.22H-0.3Z", "M-1.5,0H1.5M0,-0.3L0.2,0L0,0.3L-0.2,0Z"]},
       "legend": {"title": null, "orient": "none", "legendX": 252, "legendY": 59, "symbolSize": 400, "symbolStrokeWidth": 3, "labelOffset": 1, "rowPadding": 6, "padding": 0}}}},
   {"data": {"values": [{}]}, "mark": {"type": "rect", "fill": "white"},
    "encoding": {
     "x": {"datum": 4.3, "type": "quantitative", "scale": {"domain": [0, 12], "nice": false, "zero": false}, "axis": {"values": [], "labels": false, "ticks": false, "grid": false, "title": "reaction intermediates", "titlePadding": 11, "titleX": 122}},
     "x2": {"datum": 11.2},
     "y": {"datum": -0.406, "type": "quantitative", "scale": {"domain": [-0.45, 0], "nice": false, "zero": false, "range": [246, 12]}, "axis": {"values": [-0.45, -0.4, -0.35, -0.3, -0.25, -0.2, -0.15, -0.1, -0.05, 0], "labelExpr": "replace(format(datum.value, '.3f'), '−', '-')", "title": "HOMO-LUMO energies (au)", "titlePadding": 12, "grid": true}},
     "y2": {"datum": -0.364}}},
   {"data": {"name": "b3"}, "mark": {"type": "line", "strokeWidth": 2.5},
    "encoding": {
     "x": {"field": "i", "type": "quantitative", "scale": {"domain": [0, 12], "nice": false, "zero": false}, "axis": {"values": [], "labels": false, "ticks": false, "grid": false, "title": "reaction intermediates", "titlePadding": 11, "titleX": 122}},
     "y": {"field": "v", "type": "quantitative", "scale": {"domain": [-0.45, 0], "nice": false, "zero": false, "range": [246, 12]}, "axis": {"values": [-0.45, -0.4, -0.35, -0.3, -0.25, -0.2, -0.15, -0.1, -0.05, 0], "labelExpr": "replace(format(datum.value, '.3f'), '−', '-')", "title": "HOMO-LUMO energies (au)", "titlePadding": 12, "grid": true}},
     "color": {"field": "series", "type": "nominal", "scale": {"domain": ["ELUMO(toluene)", "ELUMO(gas)", "EHOMO (toluene)", "EHOMO(gas)"], "range": ["#8064A2", "#C0504D", "#9BBB59", "#4F81BD"]}, "legend": null}}},
   {"data": {"name": "b3"}, "transform": [{"filter": "datum.series === 'ELUMO(toluene)'"}], "mark": {"type": "point", "filled": false, "size": 60, "opacity": 1, "strokeWidth": 1.3, "shape": "M-1,-1L1,1M-1,1L1,-1", "color": "#A898CC"},
    "encoding": {
     "x": {"field": "i", "type": "quantitative", "scale": {"domain": [0, 12], "nice": false, "zero": false}, "axis": {"values": [], "labels": false, "ticks": false, "grid": false, "title": "reaction intermediates", "titlePadding": 11, "titleX": 122}},
     "y": {"field": "v", "type": "quantitative", "scale": {"domain": [-0.45, 0], "nice": false, "zero": false, "range": [246, 12]}, "axis": {"values": [-0.45, -0.4, -0.35, -0.3, -0.25, -0.2, -0.15, -0.1, -0.05, 0], "labelExpr": "replace(format(datum.value, '.3f'), '−', '-')", "title": "HOMO-LUMO energies (au)", "titlePadding": 12, "grid": true}}}},
   {"data": {"name": "b3"}, "transform": [{"filter": "datum.series === 'ELUMO(gas)'"}], "mark": {"type": "point", "filled": true, "size": 60, "opacity": 1, "shape": "square", "color": "#C0504D"},
    "encoding": {
     "x": {"field": "i", "type": "quantitative", "scale": {"domain": [0, 12], "nice": false, "zero": false}, "axis": {"values": [], "labels": false, "ticks": false, "grid": false, "title": "reaction intermediates", "titlePadding": 11, "titleX": 122}},
     "y": {"field": "v", "type": "quantitative", "scale": {"domain": [-0.45, 0], "nice": false, "zero": false, "range": [246, 12]}, "axis": {"values": [-0.45, -0.4, -0.35, -0.3, -0.25, -0.2, -0.15, -0.1, -0.05, 0], "labelExpr": "replace(format(datum.value, '.3f'), '−', '-')", "title": "HOMO-LUMO energies (au)", "titlePadding": 12, "grid": true}}}},
   {"data": {"name": "b3"}, "transform": [{"filter": "datum.series === 'EHOMO (toluene)'"}], "mark": {"type": "point", "filled": true, "size": 60, "opacity": 1, "shape": "triangle-up", "color": "#9BBB59"},
    "encoding": {
     "x": {"field": "i", "type": "quantitative", "scale": {"domain": [0, 12], "nice": false, "zero": false}, "axis": {"values": [], "labels": false, "ticks": false, "grid": false, "title": "reaction intermediates", "titlePadding": 11, "titleX": 122}},
     "y": {"field": "v", "type": "quantitative", "scale": {"domain": [-0.45, 0], "nice": false, "zero": false, "range": [246, 12]}, "axis": {"values": [-0.45, -0.4, -0.35, -0.3, -0.25, -0.2, -0.15, -0.1, -0.05, 0], "labelExpr": "replace(format(datum.value, '.3f'), '−', '-')", "title": "HOMO-LUMO energies (au)", "titlePadding": 12, "grid": true}}}},
   {"data": {"name": "b3"}, "transform": [{"filter": "datum.series === 'EHOMO(gas)'"}], "mark": {"type": "point", "filled": true, "size": 60, "opacity": 1, "shape": "diamond", "color": "#4F81BD"},
    "encoding": {
     "x": {"field": "i", "type": "quantitative", "scale": {"domain": [0, 12], "nice": false, "zero": false}, "axis": {"values": [], "labels": false, "ticks": false, "grid": false, "title": "reaction intermediates", "titlePadding": 11, "titleX": 122}},
     "y": {"field": "v", "type": "quantitative", "scale": {"domain": [-0.45, 0], "nice": false, "zero": false, "range": [246, 12]}, "axis": {"values": [-0.45, -0.4, -0.35, -0.3, -0.25, -0.2, -0.15, -0.1, -0.05, 0], "labelExpr": "replace(format(datum.value, '.3f'), '−', '-')", "title": "HOMO-LUMO energies (au)", "titlePadding": 12, "grid": true}}}},
   {"data": {"values": [{}]}, "mark": {"type": "text", "align": "right", "baseline": "middle", "fontSize": 17, "color": "#000000"},
    "encoding": {
     "x": {"datum": 9.95, "type": "quantitative", "scale": {"domain": [0, 12], "nice": false, "zero": false}, "axis": {"values": [], "labels": false, "ticks": false, "grid": false, "title": "reaction intermediates", "titlePadding": 11, "titleX": 122}},
     "y": {"datum": -0.383, "type": "quantitative", "scale": {"domain": [-0.45, 0], "nice": false, "zero": false, "range": [246, 12]}, "axis": {"values": [-0.45, -0.4, -0.35, -0.3, -0.25, -0.2, -0.15, -0.1, -0.05, 0], "labelExpr": "replace(format(datum.value, '.3f'), '−', '-')", "title": "HOMO-LUMO energies (au)", "titlePadding": 12, "grid": true}},
     "text": {"value": "[C⁺][B(C₆F₅)₄]⁻ ("}}},
   {"data": {"values": [{}]}, "mark": {"type": "text", "align": "left", "baseline": "middle", "fontSize": 17, "fontWeight": "bold", "color": "#000000"},
    "encoding": {
     "x": {"datum": 9.95, "type": "quantitative", "scale": {"domain": [0, 12], "nice": false, "zero": false}, "axis": {"values": [], "labels": false, "ticks": false, "grid": false, "title": "reaction intermediates", "titlePadding": 11, "titleX": 122}},
     "y": {"datum": -0.383, "type": "quantitative", "scale": {"domain": [-0.45, 0], "nice": false, "zero": false, "range": [246, 12]}, "axis": {"values": [-0.45, -0.4, -0.35, -0.3, -0.25, -0.2, -0.15, -0.1, -0.05, 0], "labelExpr": "replace(format(datum.value, '.3f'), '−', '-')", "title": "HOMO-LUMO energies (au)", "titlePadding": 12, "grid": true}},
     "text": {"value": "2"}}},
   {"data": {"values": [{}]}, "mark": {"type": "text", "align": "left", "baseline": "middle", "fontSize": 17, "dx": 10, "color": "#000000"},
    "encoding": {
     "x": {"datum": 9.95, "type": "quantitative", "scale": {"domain": [0, 12], "nice": false, "zero": false}, "axis": {"values": [], "labels": false, "ticks": false, "grid": false, "title": "reaction intermediates", "titlePadding": 11, "titleX": 122}},
     "y": {"datum": -0.383, "type": "quantitative", "scale": {"domain": [-0.45, 0], "nice": false, "zero": false, "range": [246, 12]}, "axis": {"values": [-0.45, -0.4, -0.35, -0.3, -0.25, -0.2, -0.15, -0.1, -0.05, 0], "labelExpr": "replace(format(datum.value, '.3f'), '−', '-')", "title": "HOMO-LUMO energies (au)", "titlePadding": 12, "grid": true}},
     "text": {"value": ")"}}}
  ]
 }
]
}
